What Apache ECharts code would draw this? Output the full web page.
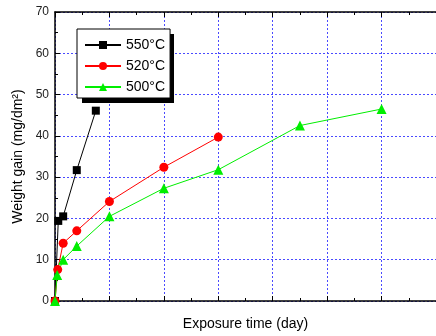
<!DOCTYPE html>
<html>
<head>
<meta charset="utf-8">
<script src="https://cdn.jsdelivr.net/npm/echarts@6/dist/echarts.min.js"></script>
<style>
  html, body { margin: 0; padding: 0; background: #fff; }
  #chart { width: 436px; height: 336px; }
</style>
</head>
<body>
<div id="chart"></div>
<script>
// series data: [day, weight gain mg/dm2]
const s550 = [[0, 0], [0.3, 19.4], [0.75, 20.5], [2, 31.7], [3.75, 46.1]];
const s520 = [[0, 0], [0.25, 7.6], [0.75, 14.0], [2, 17.0], [5, 24.1], [10, 32.4], [15, 39.7]];
const s500 = [[0, 0], [0.2, 6.3], [0.75, 10.0], [2, 13.3], [5, 20.5], [10, 27.3], [15, 31.8], [22.5, 42.5], [30, 46.5]];
const seriesNames = ['550°C', '520°C', '500°C'];

const chart = echarts.init(document.getElementById('chart'), null, { renderer: 'canvas' });
const font = 'Arial, "Liberation Sans", sans-serif';
const gridLine = { show: true, lineStyle: { color: '#4a4aff', type: [2, 2], width: 1 } };

chart.setOption({
  animation: false,
  backgroundColor: '#fff',
  grid: { left: 55, right: -6, top: 12, bottom: 32.5, containLabel: false },
  // solid drop shadow behind the legend box
  graphic: [{
    type: 'rect', left: 82, top: 34, z: 1,
    shape: { width: 92, height: 69 },
    style: { fill: '#000' }
  }],
  legend: {
    left: 77, top: 29, z: 5,
    orient: 'vertical',
    padding: [9, 5, 4, 7],
    itemGap: 7,
    itemWidth: 36,
    itemHeight: 10,
    backgroundColor: '#fff',
    borderColor: '#000',
    borderWidth: 1,
    textStyle: { fontFamily: font, fontSize: 14, color: '#000' },
    data: seriesNames
  },
  xAxis: [{
    type: 'value', min: 0, max: 35, interval: 5,
    name: 'Exposure time (day)', nameLocation: 'middle', nameGap: 16,
    nameTextStyle: { fontFamily: font, fontSize: 14, color: '#000' },
    axisLine: { lineStyle: { color: '#000', width: 1.5 } },
    axisTick: { inside: true, length: 5, lineStyle: { color: '#000' } },
    minorTick: { show: true, splitNumber: 2, length: 3, lineStyle: { color: '#000' } },
    axisLabel: { show: false },
    splitLine: gridLine
  }, {
    type: 'value', min: 0, max: 35, interval: 5, position: 'top',
    axisLine: { show: true, onZero: false, lineStyle: { color: '#000', width: 1.5 } },
    axisTick: { show: true, inside: true, length: 5, lineStyle: { color: '#000' } },
    minorTick: { show: true, splitNumber: 2, length: 3, lineStyle: { color: '#000' } },
    axisLabel: { show: false },
    splitLine: { show: false }
  }],
  yAxis: {
    type: 'value', min: 0, max: 70, interval: 10,
    name: 'Weight gain (mg/dm²)', nameLocation: 'middle', nameGap: 25,
    nameTextStyle: { fontFamily: font, fontSize: 14, color: '#000' },
    axisLine: { show: true, lineStyle: { color: '#000', width: 1.5 } },
    axisTick: { inside: true, length: 5, lineStyle: { color: '#000' } },
    minorTick: { show: true, splitNumber: 2, length: 3, lineStyle: { color: '#000' } },
    axisLabel: { fontFamily: font, fontSize: 12, color: '#222', margin: 6 },
    splitLine: gridLine
  },
  series: [{
    name: seriesNames[0], type: 'line', data: s550,
    symbol: 'rect', symbolSize: 8,
    lineStyle: { color: '#000', width: 1 },
    itemStyle: { color: '#000' }
  }, {
    name: seriesNames[1], type: 'line', data: s520,
    symbol: 'circle', symbolSize: 9,
    lineStyle: { color: '#ff0000', width: 1 },
    itemStyle: { color: '#ff0000' }
  }, {
    name: seriesNames[2], type: 'line', data: s500,
    symbol: 'triangle', symbolSize: 10,
    lineStyle: { color: '#00ee00', width: 1 },
    itemStyle: { color: '#00ee00' }
  }]
});
</script>
</body>
</html>
